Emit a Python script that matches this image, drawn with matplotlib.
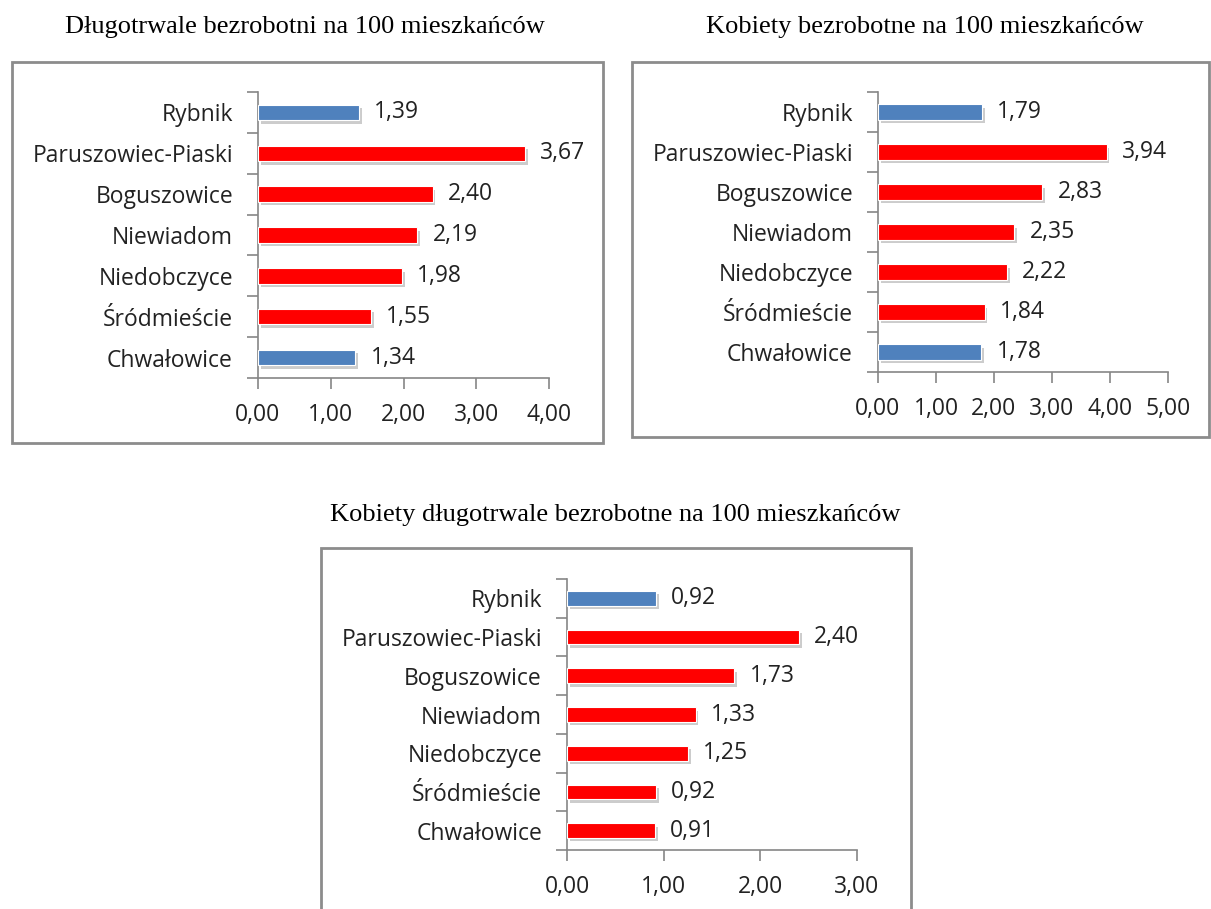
import numpy as np
import matplotlib.pyplot as plt
import matplotlib.patheffects as pe
from matplotlib.patches import Rectangle

# data
districts = ["Rybnik", "Paruszowiec-Piaski", "Boguszowice", "Niewiadom",
             "Niedobczyce", "Śródmieście", "Chwałowice"]
long_term = [1.39, 3.67, 2.40, 2.19, 1.98, 1.55, 1.34]
women = [1.79, 3.94, 2.83, 2.35, 2.22, 1.84, 1.78]
women_long_term = [0.92, 2.40, 1.73, 1.33, 1.25, 0.92, 0.91]
colors_1 = ["#4F81BD", "red", "red", "red", "red", "red", "#4F81BD"]
colors_2 = ["#4F81BD", "red", "red", "red", "red", "red", "#4F81BD"]
colors_3 = ["#4F81BD", "red", "red", "red", "red", "red", "red"]
titles = ["Długotrwale bezrobotni na 100 mieszkańców",
          "Kobiety bezrobotne na 100 mieszkańców",
          "Kobiety długotrwale bezrobotne na 100 mieszkańców"]

W, H = 1211, 909
fig = plt.figure(figsize=(W / 100, H / 100), dpi=100)
fig.patch.set_facecolor("white")

LABEL_FONT = ["Open Sans", "DejaVu Sans"]
FS = 16.5
GRAY = "#868686"


def fx(px):
    return px / W


def fy(py):
    return 1 - py / H


def frame(x0, y0, x1, y1):
    fig.patches.append(Rectangle((fx(x0), fy(y1)), fx(x1) - fx(x0), fy(y0) - fy(y1),
                                 transform=fig.transFigure, fill=False,
                                 edgecolor="#8c8c8c", linewidth=2))


def panel(rect, values, colors, xmax, title, title_xy):
    ax = fig.add_axes(rect)
    y = np.arange(len(values))
    bars = ax.barh(y, values, height=0.38, color=colors, edgecolor="white",
                   linewidth=0.8, zorder=3)
    for b in bars:
        b.set_path_effects([pe.SimplePatchShadow(offset=(2, -2.5), shadow_rgbFace="#9a9a9a",
                                                 alpha=0.5), pe.Normal()])
    ax.set_ylim(len(values) - 0.5, -0.5)
    ax.set_xlim(0, xmax)
    ax.set_xticks(np.arange(0, xmax + 0.01, 1.0))
    ax.set_xticklabels([f"{v:.2f}".replace(".", ",") for v in np.arange(0, xmax + 0.01, 1.0)],
                       family=LABEL_FONT, fontsize=FS, color="#222222")
    ax.set_yticks(np.arange(-0.5, len(values), 1.0))
    ax.set_yticklabels([])
    ax.set_yticks(y, minor=True)
    ax.set_yticklabels(districts, minor=True, family=LABEL_FONT, fontsize=FS, color="#222222")
    ax.tick_params(axis="y", which="minor", length=0, pad=18)
    ax.tick_params(axis="y", which="major", length=8, direction="out", color=GRAY, width=1.2)
    ax.tick_params(axis="x", length=8, direction="out", color=GRAY, width=1.2, pad=10)
    for s in ["top", "right"]:
        ax.spines[s].set_visible(False)
    for s in ["left", "bottom"]:
        ax.spines[s].set_color(GRAY)
        ax.spines[s].set_linewidth(1.2)
    for yi, v in zip(y, values):
        ax.annotate(f"{v:.2f}".replace(".", ","), (v, yi), xytext=(11, 0),
                    textcoords="offset points", va="center", ha="left",
                    family=LABEL_FONT, fontsize=FS, color="#222222")
    fig.text(fx(title_xy[0]), fy(title_xy[1]), title, ha="center", va="center",
             family="Liberation Serif", fontsize=19, color="black")
    return ax


frame(12, 62, 603, 443)
frame(632, 62, 1209, 437)
frame(321, 548, 911, 912)

panel([fx(258), fy(378), fx(549) - fx(258), fy(92) - fy(378)],
      long_term, colors_1, 4, titles[0], (305, 27))
panel([fx(878), fy(372), fx(1168) - fx(878), fy(92) - fy(372)],
      women, colors_2, 5, titles[1], (925, 27))
panel([fx(567), fy(850), fx(857) - fx(567), fy(579) - fy(850)],
      women_long_term, colors_3, 3, titles[2], (615, 515))

fig.savefig("out.png", dpi=100, facecolor="white")
